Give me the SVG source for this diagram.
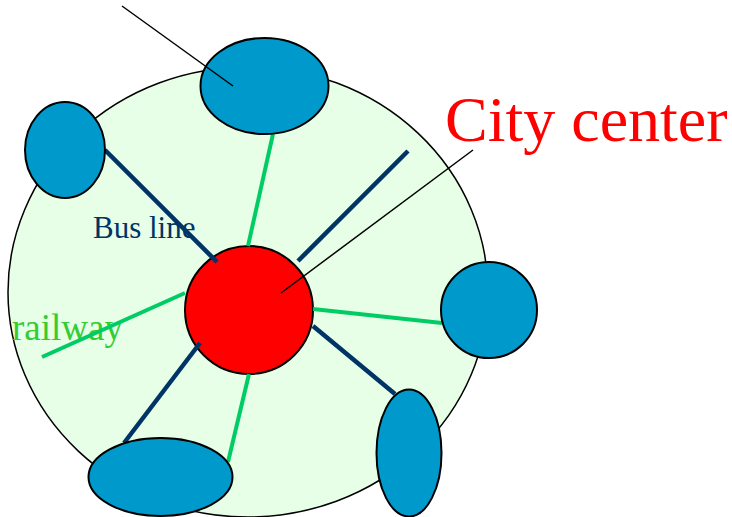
<svg xmlns="http://www.w3.org/2000/svg" width="732" height="517" viewBox="0 0 732 517">
<style>
.node{fill:#0099cc;stroke:#000;stroke-width:2}
.bus{stroke:#003366;stroke-width:4.5;fill:none}
.rail{stroke:#00cc66;stroke-width:4;fill:none}
.ptr{stroke:#000;stroke-width:1.5;fill:none}
text{font-family:"Liberation Serif","Times New Roman",serif}
</style>
<rect width="732" height="517" fill="#fff"/>
<g id="city-area"><ellipse cx="248" cy="292" rx="240" ry="225" fill="#e6ffe6" stroke="#000" stroke-width="1.5"/></g>
<g id="labels-inner">
<text x="93" y="238" font-size="31" fill="#003366">Bus line</text>
<text x="12" y="340" font-size="37" fill="#33cc33">railway</text>
</g>
<g id="center"><circle cx="249" cy="310" r="64" fill="#ff0000" stroke="#000" stroke-width="2"/></g>
<g id="connectors">
<line class="rail" x1="273" y1="134" x2="248" y2="246"/>
<line class="bus" x1="105" y1="150" x2="217" y2="262"/>
<line class="bus" x1="408" y1="151" x2="298" y2="261"/>
<line class="rail" x1="313" y1="309" x2="442" y2="323"/>
<line class="bus" x1="313" y1="326" x2="395" y2="394"/>
<line class="bus" x1="200" y1="343" x2="124" y2="443"/>
<line class="rail" x1="249" y1="374" x2="228" y2="462"/>
<line class="rail" x1="185" y1="293" x2="42" y2="357"/>
</g>
<g id="node-top"><ellipse class="node" cx="264.5" cy="86" rx="64" ry="48"/></g>
<g id="node-left"><ellipse class="node" cx="65" cy="150" rx="40" ry="48"/></g>
<g id="node-right"><circle class="node" cx="489" cy="310" r="48"/></g>
<g id="node-bottom-right"><ellipse class="node" cx="409" cy="453" rx="32.5" ry="63.5"/></g>
<g id="node-bottom"><ellipse class="node" cx="160.5" cy="477" rx="72" ry="39"/></g>
<g id="pointers">
<line class="ptr" x1="122" y1="6" x2="233" y2="86"/>
<line class="ptr" x1="473" y1="150" x2="281" y2="293"/>
</g>
<g id="title"><text x="445" y="141" font-size="64" fill="#ff0000">City center</text></g>
</svg>
